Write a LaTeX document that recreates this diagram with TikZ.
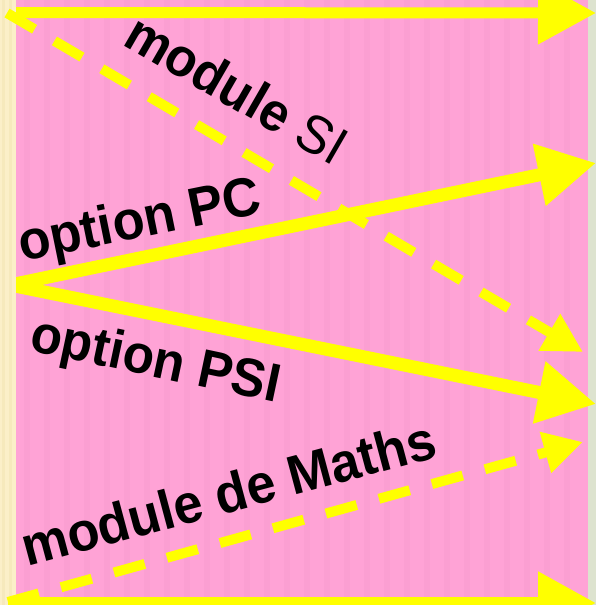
\documentclass[tikz,border=0pt]{standalone}
\usepackage{fontspec}
\setmainfont{Liberation Sans}
\newfontfamily\tallfont[FakeStretch=0.95]{Liberation Sans}
\usetikzlibrary{arrows.meta}
\definecolor{pinkbg}{RGB}{255,163,214}
\definecolor{pinkstripe}{RGB}{244,150,204}
\definecolor{creambg}{RGB}{251,239,200}
\definecolor{creamstripe}{RGB}{240,224,172}
\definecolor{greenbg}{RGB}{221,227,207}
\definecolor{arrowyellow}{RGB}{255,255,0}
\begin{document}
\begin{tikzpicture}[x=1pt,y=-1pt,
  solidarrow/.style={draw=arrowyellow, line width=13pt, -{Triangle[length=58pt,width=60pt]}},
  dasharrow/.style={draw=arrowyellow, line width=10pt, dash pattern=on 32pt off 23pt, -{Triangle[length=39pt,width=40pt]}},
  lbl/.style={font=\tallfont\fontsize{54}{54}\selectfont\bfseries, text=black, inner sep=0pt, anchor=base west}]
\useasboundingbox (0,0) rectangle (596,605);
\begin{scope}
\clip (0,0) rectangle (596,605);
% backgrounds
\fill[creambg] (0,0) rectangle (16,605);
\foreach \x in {2,9} \fill[creamstripe, opacity=0.4] (\x,0) rectangle (\x+3,605);
\fill[pinkbg] (16,0) rectangle (588,605);
\foreach \x in {24,44,...,580} \fill[pinkstripe, opacity=0.3] (\x,0) rectangle (\x+6,605);
\fill[greenbg] (588,0) rectangle (596,605);
% coordinates
\coordinate (topS) at (16,12.5);
\coordinate (topE) at (596,13);
\coordinate (botS) at (8,603);
\coordinate (botE) at (596,603);
\coordinate (siS) at (7,13);
\coordinate (siE) at (583,352);
\coordinate (mathS) at (8,602);
\coordinate (mathE) at (583,442);
\coordinate (fork) at (10,285);
\coordinate (pcE) at (596,163);
\coordinate (psiE) at (596,404);
% dashed arrows
\draw[dasharrow] (siS) -- (siE);
\draw[dasharrow] (mathS) -- (mathE);
% solid arrows
\draw[solidarrow, line width=11pt] (topS) -- (topE);
\draw[solidarrow, line width=12pt] (botS) -- (botE);
\begin{scope}
\clip (16,0) rectangle (596,605);
\draw[solidarrow] (fork) -- (pcE);
\draw[solidarrow] (fork) -- (psiE);
\end{scope}
% labels
\node[lbl, rotate=-30] (si) at (121,44) {module {\mdseries SI}};
\node[lbl, rotate=11.5, font=\tallfont\fontsize{55}{55}\selectfont\bfseries] (pc) at (22,262) {option PC};
\node[lbl, rotate=-12] (psi) at (28,350) {option PSI};
\node[lbl, rotate=15, font=\tallfont\fontsize{55}{55}\selectfont\bfseries] (maths) at (27,567) {module de Maths};
\end{scope}
\end{tikzpicture}
\end{document}
